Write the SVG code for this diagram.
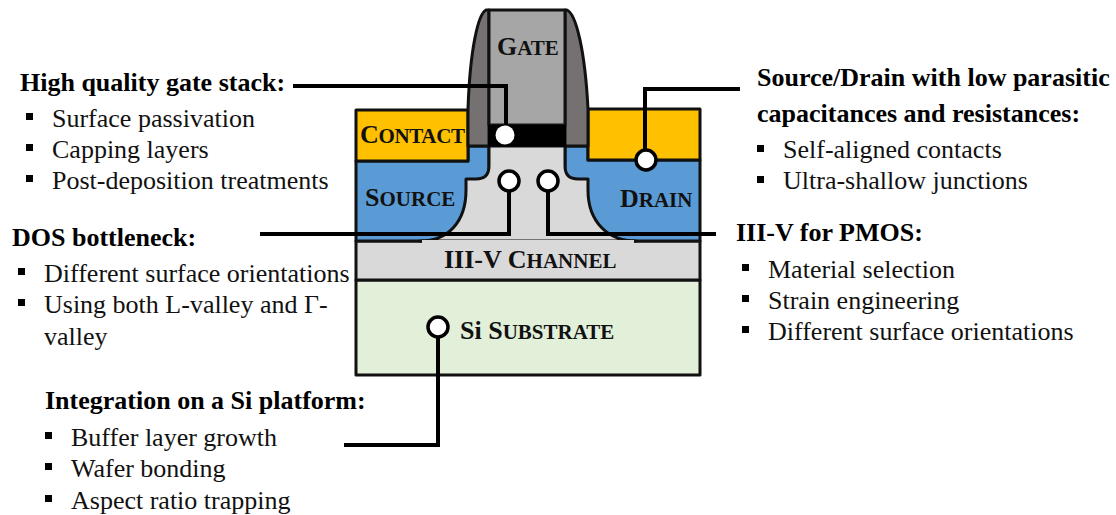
<svg xmlns="http://www.w3.org/2000/svg" width="1116" height="515" viewBox="0 0 1116 515">
<style>
text{font-family:"Liberation Serif","Times New Roman",serif;fill:#000}
.h{font-size:26px;font-weight:bold}
.b{font-size:26px;fill:#111}
.l{font-size:26px;font-weight:bold;fill:#111}
.s{font-size:21px}
.o{stroke:#111;stroke-width:3;stroke-linejoin:round}
.c{fill:none;stroke:#000;stroke-width:4}
.d{fill:#fff;stroke:#000;stroke-width:3.5}
.m{fill:#000}
</style>
<g id="substrate"><rect class="o" x="356" y="280" width="344" height="95" fill="#e2efd9"/><text class="l" x="460" y="339">Si S<tspan class="s">UBSTRATE</tspan></text></g>
<g id="channel"><rect class="o" x="356" y="241" width="344" height="39" fill="#d9d9d9"/><text class="l" x="444" y="268">III-V C<tspan class="s">HANNEL</tspan></text></g>
<g id="source"><path class="o" d="M356 161H468V146H489V241H356Z" fill="#5b9bd5"/><text class="l" x="365" y="206">S<tspan class="s">OURCE</tspan></text></g>
<g id="drain"><path class="o" d="M700 160H588V146H565V241H700Z" fill="#5b9bd5"/><text class="l" x="620" y="207">D<tspan class="s">RAIN</tspan></text></g>
<g id="channel-well"><path class="o" d="M489 146V166Q489 179 476 179H466V190C466 222 448 241 420 241H636C608 241 588 222 588 190V179H578Q565 179 565 166V146Z" fill="#d9d9d9"/><path d="M422 241.500H634" stroke="#d9d9d9" stroke-width="3"/></g>
<g id="contact-left"><rect class="o" x="356" y="110" width="112" height="51" fill="#ffc000"/><text class="l" x="360" y="143" textLength="105">C<tspan class="s">ONTACT</tspan></text></g>
<g id="contact-right"><rect class="o" x="588" y="109" width="112" height="51" fill="#ffc000"/></g>
<g id="gate">
<path class="o" d="M489 10H486C478 14 470 50 468 109V146H489Z" fill="#767171"/>
<path class="o" d="M565 10H567C576 14 585 50 588 109V146H565Z" fill="#767171"/>
<rect class="o" x="489" y="10" width="76" height="115" fill="#a6a6a6"/>
<rect x="488" y="125" width="78" height="21.500" fill="#000"/>
<text class="l" x="497" y="55">G<tspan class="s">ATE</tspan></text>
</g>
<g id="connectors">
<path class="c" d="M293 86H506V135"/>
<path class="c" d="M645 160V89H740"/>
<path class="c" d="M260 234H509V190"/>
<path class="c" d="M548 190V234H716"/>
<path class="c" d="M438 335V445H344"/>
<circle cx="505" cy="135" r="9.500" fill="#fff"/>
<circle class="d" cx="646" cy="160" r="10"/>
<circle class="d" cx="509" cy="181" r="10"/>
<circle class="d" cx="548" cy="181" r="10"/>
<circle class="d" cx="438" cy="327" r="10"/>
</g>
<g id="gate-stack-text">
<text class="h" x="20" y="91">High quality gate stack:</text>
<rect class="m" x="26" y="113" width="7" height="7"/><text class="b" x="52" y="127">Surface passivation</text>
<rect class="m" x="26" y="144" width="7" height="7"/><text class="b" x="52" y="158">Capping layers</text>
<rect class="m" x="26" y="175" width="7" height="7"/><text class="b" x="52" y="189">Post-deposition treatments</text>
</g>
<g id="source-drain-text">
<text class="h" x="757" y="86">Source/Drain with low parasitic</text>
<text class="h" x="757" y="122">capacitances and resistances:</text>
<rect class="m" x="757" y="145" width="7" height="7"/><text class="b" x="783" y="158">Self-aligned contacts</text>
<rect class="m" x="757" y="176" width="7" height="7"/><text class="b" x="783" y="189">Ultra-shallow junctions</text>
</g>
<g id="dos-text">
<text class="h" x="12" y="246">DOS bottleneck:</text>
<rect class="m" x="18" y="268" width="7" height="7"/><text class="b" x="44" y="282">Different surface orientations</text>
<rect class="m" x="18" y="299" width="7" height="7"/><text class="b" x="44" y="313">Using both L-valley and Γ-</text>
<text class="b" x="44" y="345">valley</text>
</g>
<g id="pmos-text">
<text class="h" x="736" y="241">III-V for PMOS:</text>
<rect class="m" x="742" y="264" width="7" height="7"/><text class="b" x="768" y="278">Material selection</text>
<rect class="m" x="742" y="295" width="7" height="7"/><text class="b" x="768" y="309">Strain engineering</text>
<rect class="m" x="742" y="326" width="7" height="7"/><text class="b" x="768" y="340">Different surface orientations</text>
</g>
<g id="si-text">
<text class="h" x="45" y="409">Integration on a Si platform:</text>
<rect class="m" x="45" y="432" width="7" height="7"/><text class="b" x="71" y="446">Buffer layer growth</text>
<rect class="m" x="45" y="463" width="7" height="7"/><text class="b" x="71" y="477">Wafer bonding</text>
<rect class="m" x="45" y="495" width="7" height="7"/><text class="b" x="71" y="509">Aspect ratio trapping</text>
</g>
</svg>
